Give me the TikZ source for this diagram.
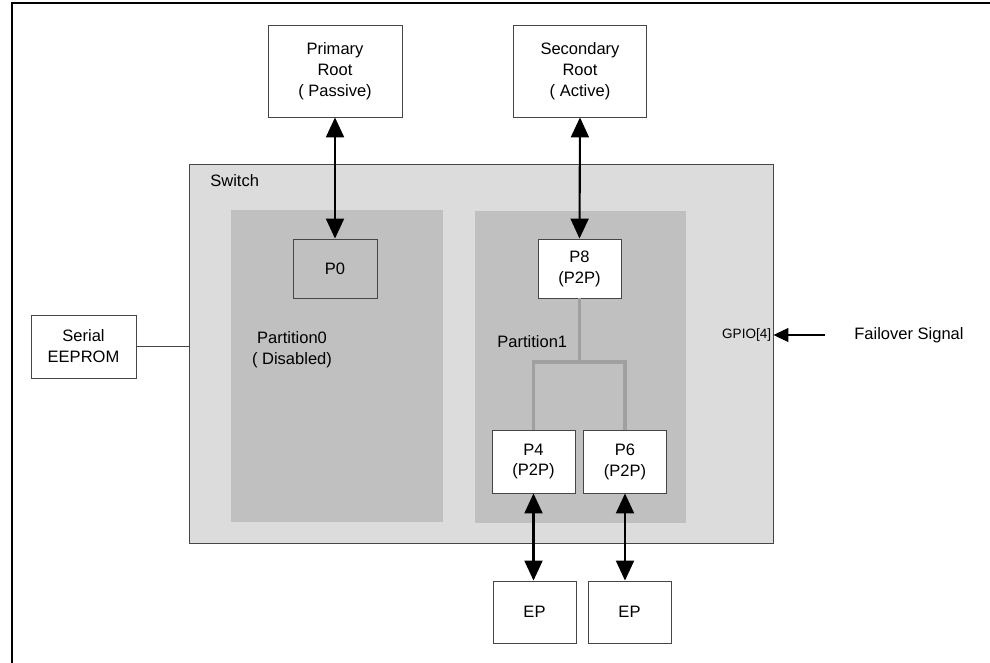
\documentclass[tikz,border=0pt]{standalone}
\usepackage{fontspec}
\setmainfont{Liberation Sans}
\usetikzlibrary{arrows.meta,positioning}
\definecolor{swgray}{RGB}{220,220,220}
\definecolor{ptgray}{RGB}{192,192,192}
\definecolor{edgegray}{RGB}{70,70,70}
\definecolor{treegray}{RGB}{160,160,160}

\begin{document}
\begin{tikzpicture}[>=Latex,
  box/.style={draw=edgegray,line width=0.5pt,fill=white,align=center,inner sep=1pt,font=\fontsize{9.4}{11.9}\selectfont},
  port/.style={box,minimum width=1.66cm,minimum height=1.18cm},
  area/.style={fill=ptgray,inner sep=0pt},
  link/.style={{Triangle[length=4mm,width=3.6mm]}-{Triangle[length=4mm,width=3.6mm]},line width=1.2pt},
  lbl/.style={font=\fontsize{9.4}{11.9}\selectfont,inner sep=0pt,align=center}]
\useasboundingbox (0,0) rectangle (19.8,-13.26);
% frame
\draw[line width=1.1pt] (0.24,-13.4) -- (0.24,-0.06) -- (19.9,-0.06);
% switch and partitions
\node[draw=edgegray,line width=0.5pt,fill=swgray,minimum width=11.68cm,minimum height=7.58cm,inner sep=0pt] (sw) at (9.62,-7.07) {};
\node[lbl,anchor=west] (swlbl) at (4.20,-3.61) {Switch};
\node[area,minimum width=4.24cm,minimum height=6.24cm] (part0) at (6.74,-7.32) {};
\node[area,minimum width=4.22cm,minimum height=6.24cm] (part1) at (11.61,-7.34) {};
\node[lbl] (part0lbl) at (5.84,-7.0) {Partition0\\( Disabled)};
\node[lbl,anchor=west] (part1lbl) at (9.94,-6.84) {Partition1};
% roots
\node[box,minimum width=2.68cm,minimum height=1.84cm] (pri) at (6.70,-1.42) {Primary\\Root\\( Passive)};
\node[box,minimum width=2.66cm,minimum height=1.84cm] (sec) at (11.60,-1.42) {Secondary\\Root\\( Active)};
% ports
\node[port,fill=ptgray,minimum width=1.68cm] (p0) at (6.70,-5.37) {P0};
\node[port] (p8) at (11.59,-5.37) {P8\\(P2P)};
\node[port,minimum height=1.26cm] (p4) at (10.67,-9.23) {P4\\(P2P)};
\node[port,minimum height=1.26cm] (p6) at (12.50,-9.23) {P6\\(P2P)};
% endpoints
\node[port,minimum height=1.24cm] (ep1) at (10.69,-12.24) {EP};
\node[port,minimum height=1.24cm] (ep2) at (12.59,-12.24) {EP};
\node[box,minimum width=2.10cm,minimum height=1.26cm] (eeprom) at (1.67,-6.93) {Serial\\EEPROM};
% connections
\draw[link] (pri.south) -- (p0.north);
\draw[link] (sec.south) -- (p8.north);
\draw[link] (p4.south) -- (p4.south |- ep1.north);
\draw[link] (p6.south) -- (p6.south |- ep2.north);
\coordinate (split) at (11.59,-7.24);
\draw[treegray,line width=2pt] (p8.south) -- (split);
\draw[treegray,line width=2pt] (p4.north) |- (split) -| (p6.north);
\draw[edgegray,line width=0.6pt] (eeprom.east) -- (eeprom.east -| sw.west);
% failover
\coordinate (fail) at (16.50,-6.70);
\draw[-{Triangle[length=3mm,width=2.8mm]},line width=0.6pt] (fail) -- (fail -| sw.east);
\node[lbl,anchor=east,font=\fontsize{7.7}{9}\selectfont] (gpio) at ([xshift=-0.04cm]fail -| sw.east) {GPIO[4]};
\node[lbl,anchor=west] (failtxt) at (17.08,-6.70) {Failover Signal};
\end{tikzpicture}
\end{document}
